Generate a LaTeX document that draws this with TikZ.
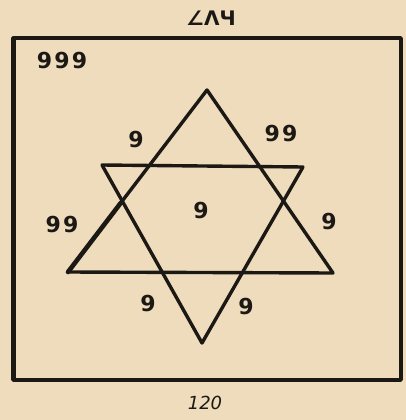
\documentclass[tikz,border=0pt]{standalone}
\usepackage{fontspec}
\setmainfont{DejaVu Sans}
\newfontfamily\hand[LetterSpace=10]{DejaVu Sans Bold}
\usetikzlibrary{calc, positioning}
\definecolor{paper}{HTML}{EEDCBD}
\definecolor{ink}{HTML}{1C1915}
\tikzset{el/.style={line cap=round, line join=round},
  num/.style={font=\hand\fontsize{22}{22}\selectfont, text=ink, inner sep=0pt}}

\begin{document}
\begin{tikzpicture}[el, x=1pt, y=-1pt]
  \fill[paper] (0,0) rectangle (406,420);
  \useasboundingbox (0,0) rectangle (406,420);
  % frame
  \draw[ink, line width=3.8pt] (13,38) rectangle (401,380);
  \draw[ink, line width=2pt] (15,39) -- (15,379);
  % star
  \coordinate (ua) at (207,90);
  \coordinate (ub) at (68,272);
  \coordinate (uc) at (333,273);
  \coordinate (da) at (102,165);
  \coordinate (db) at (303,167);
  \coordinate (dc) at (202,343);
  \draw[ink, line width=3.4pt] (ua)--(ub)--(uc)--cycle;
  \draw[ink, line width=3.4pt] (da)--(db)--(dc)--cycle;
  \draw[ink, line width=4.6pt] (ub)--($(ub)!0.38!(ua)$);
  % numbers
  \node[num] (corner) at (62,61) {999};
  \node[num] (tl) at (136,140) {9};
  \node[num] (tr) at (281,134) {99};
  \node[num] (mid) at (201,211) {9};
  \node[num] (lft) at (62,224) {99};
  \node[num] (rgt) at (329,222) {9};
  \node[num] (bl) at (148,303) {9};
  \node[num] (br) at (246,306) {9};
  \node[font=\bfseries\fontsize{20}{20}\selectfont, text=ink, inner sep=0pt] (head) at (211,18) {∠ΛЧ};
  \node[font=\itshape\fontsize{18}{18}\selectfont, text=ink, inner sep=0pt] (foot) at (205,403) {120};
\end{tikzpicture}
\end{document}
